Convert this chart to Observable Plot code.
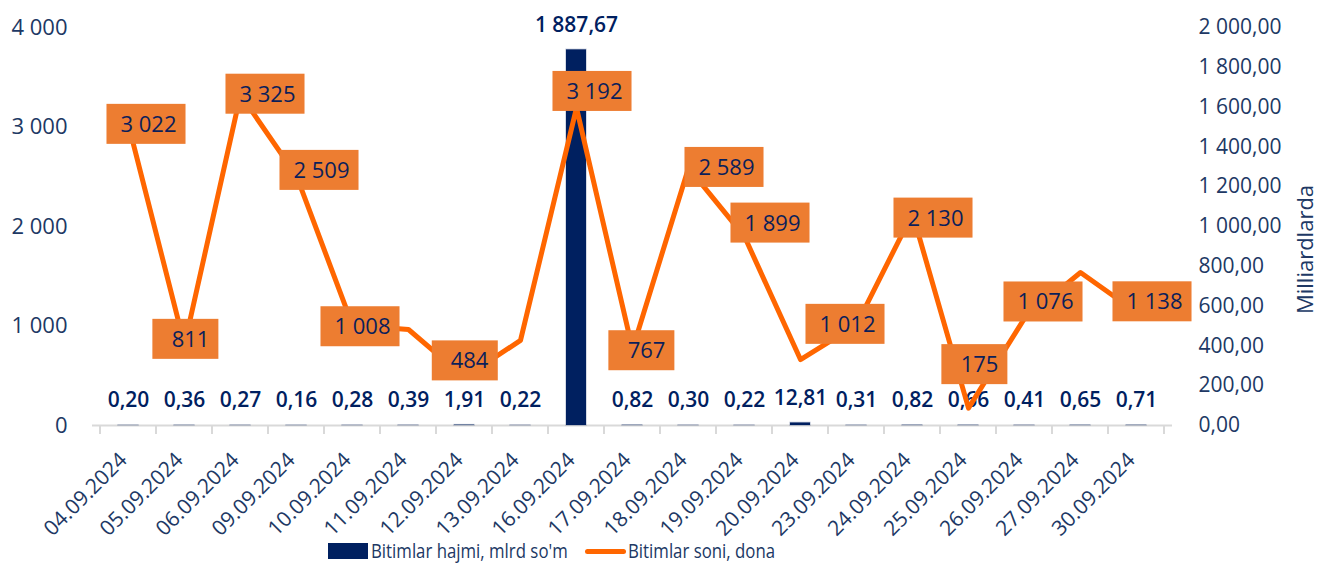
<!DOCTYPE html>
<html><head><meta charset="utf-8">
<script src="https://cdn.jsdelivr.net/npm/d3@7"></script>
<script src="https://cdn.jsdelivr.net/npm/@observablehq/plot@0.6"></script>
<style>
html,body{margin:0;padding:0;background:#fff;overflow:hidden;}
#wrap{position:relative;width:1317px;height:563px;font-family:"Open Sans",sans-serif;color:#203864;}
.lg{position:absolute;}
.lgt{position:absolute;top:537px;font-size:20px;line-height:27px;color:#203864;white-space:nowrap;transform:scaleX(0.84);transform-origin:0 50%;}
</style></head><body><div id="wrap"></div>
<script>
const dates = ["04.09.2024","05.09.2024","06.09.2024","09.09.2024","10.09.2024","11.09.2024","12.09.2024","13.09.2024","16.09.2024","17.09.2024","18.09.2024","19.09.2024","20.09.2024","23.09.2024","24.09.2024","25.09.2024","26.09.2024","27.09.2024","30.09.2024"];
const volume = [0.20,0.36,0.27,0.16,0.28,0.39,1.91,0.22,1887.67,0.82,0.30,0.22,12.81,0.31,0.82,0.66,0.41,0.65,0.71];
const deals = [3022,811,3325,2509,1008,965,484,855,3192,767,2589,1899,663,1012,2130,175,1076,1538,1138];
const dealLabelShown = [1,1,1,1,1,0,1,0,1,1,1,1,0,1,1,1,1,0,1];
const leftTicks = [0,1000,2000,3000,4000];
const rightTicks = [0,200,400,600,800,1000,1200,1400,1600,1800,2000];
const seriesNames = ["Bitimlar hajmi, mlrd so'm","Bitimlar soni, dona"];
const rightTitle = "Milliardlarda";
// label nudges (pixels) relative to each point, as placed in the reference
const labelNudge = [[16,0],[2,-5],[23,0],[21,-5],[6,2],null,[1,-16],null,[14,-16],[10,2],[34,0],[24,-13],null,[-13,0],[19,5],[7,-43],[17,-16],null,[14,-10]];

const loc = d3.formatLocale({decimal:",", thousands:"\u00a0", grouping:[3], currency:["",""]});
const fmtInt = loc.format(",d");
const fmt2 = loc.format(",.2f");

const rows = dates.map((d,i)=>({date:d, vol:volume[i], n:deals[i], show:dealLabelShown[i], nudge:labelNudge[i]}));

const NAVY = "#002060", ORANGE = "#ff6600", BOX = "#ed7d31", AXIS = "#203864", LABEL = "#0b1f5a";

const labelMarks = rows.filter(r=>r.show).map(r =>
  Plot.text([r], {x:"date", y:"n", text:d=>fmtInt(d.n), dx:r.nudge[0]+4, dy:r.nudge[1],
    fontSize:22, fontWeight:500, fill:LABEL}));

const chart = Plot.plot({
  width:1317, height:540,
  marginTop:27, marginBottom:115, marginLeft:92, marginRight:145,
  style:{fontFamily:"'Open Sans', sans-serif", fontSize:"22px", color:AXIS, background:"#fff", overflow:"visible"},
  x:{type:"band", domain:dates, paddingInner:0.648, paddingOuter:0.324, label:null},
  y:{domain:[0,4000], label:null},
  marks:[
    Plot.axisY({anchor:"left", ticks:leftTicks, tickSize:0, tickPadding:25, tickFormat:fmtInt, fontSize:22, label:null}),
    Plot.axisY({anchor:"right", ticks:rightTicks.map(v=>v*2), tickSize:0, tickPadding:26, tickFormat:v=>fmt2(v/2), fontSize:21, label:null}),
    Plot.axisX({tickRotate:-45, tickSize:0, tickPadding:31, dx:-5, fontSize:21, label:null}),
    Plot.ruleY([0], {stroke:"#D9D9D9", strokeWidth:2}),
    Plot.barY(rows, {x:"date", y1:0, y2:d=>d.vol*2, fill:NAVY, stroke:NAVY, strokeOpacity:0.22, strokeWidth:1.5}),
    Plot.text(rows, {x:"date", y:d=>d.vol*2, text:d=>fmt2(d.vol), dy:-25, fontSize:21, fontWeight:600, fill:NAVY}),
    Plot.line(rows, {x:"date", y:"n", stroke:ORANGE, strokeWidth:5, strokeLinejoin:"round", strokeLinecap:"round"}),
    ...labelMarks,
    Plot.text([rightTitle], {frameAnchor:"right", text:d=>d, rotate:-90, textAnchor:"middle", dx:133, dy:23, fontSize:22, fill:AXIS})
  ]
});

const wrap = document.getElementById("wrap");
wrap.appendChild(chart);

// category boundary ticks under the baseline
const xs = chart.scale("x"), ys = chart.scale("y");
const y0 = ys.apply(0);
const gap = (xs.step - xs.bandwidth)/2;
const bounds = dates.map(d=>xs.apply(d)-gap);
bounds.push(bounds[bounds.length-1]+xs.step);
const tg = d3.select(chart).append("g");
tg.selectAll("line").data(bounds).join("line")
  .attr("x1",d=>d).attr("x2",d=>d).attr("y1",y0).attr("y2",y0+9)
  .attr("stroke","#D9D9D9").attr("stroke-width",2);

// orange boxes behind the count labels
const svgBox = chart.getBoundingClientRect();
const labelGroups = [...chart.querySelectorAll("g")].filter(g => (g.getAttribute("fill")||"").toLowerCase() === LABEL);
if (labelGroups.length) {
  const boxes = document.createElementNS("http://www.w3.org/2000/svg","g");
  labelGroups[0].parentNode.insertBefore(boxes, labelGroups[0]);
  labelGroups.forEach(g => g.querySelectorAll("text").forEach(t=>{
    const r = t.getBoundingClientRect();
    const right = r.right - svgBox.left + 9;
    const w = Math.max(r.width + 23, 66);
    const yc = r.top - svgBox.top + r.height/2 + 1;
    const rect = document.createElementNS("http://www.w3.org/2000/svg","rect");
    rect.setAttribute("x", right - w); rect.setAttribute("y", yc - 20);
    rect.setAttribute("width", w); rect.setAttribute("height", 40);
    rect.setAttribute("fill", BOX);
    boxes.appendChild(rect);
  }));
}

// legend below the svg
const legend = document.createElement("div");
legend.innerHTML =
  `<div class="lg" style="left:328px;top:543px;width:40px;height:16px;background:${NAVY}"></div>`+
  `<div class="lgt" style="left:371px">${seriesNames[0]}</div>`+
  `<div class="lg" style="left:585px;top:549px;width:41px;height:5px;border-radius:3px;background:${ORANGE}"></div>`+
  `<div class="lgt" style="left:628px">${seriesNames[1]}</div>`;
wrap.appendChild(legend);
</script></body></html>
